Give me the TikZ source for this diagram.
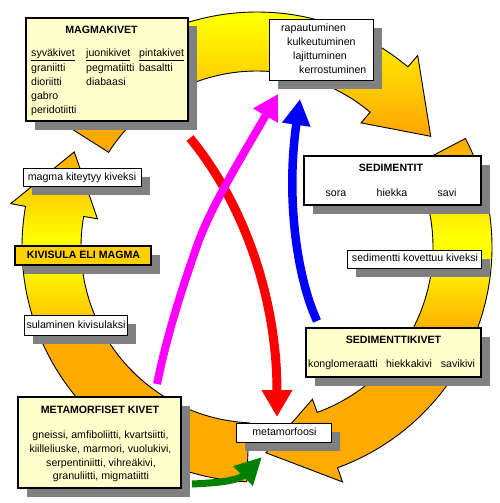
\documentclass[tikz,border=0pt]{standalone}
\usepackage{fontspec}
\setmainfont{Liberation Sans}
\usetikzlibrary{arrows.meta,shadows}
\definecolor{ringorange}{RGB}{255,170,0}
\definecolor{ringyellow}{RGB}{255,255,0}
\definecolor{boxyellow}{RGB}{255,255,204}
\definecolor{kivigold}{RGB}{255,208,0}
\definecolor{shadowgray}{RGB}{128,128,128}
\definecolor{redC}{RGB}{255,0,0}
\definecolor{magC}{RGB}{255,0,255}
\definecolor{bluC}{RGB}{0,0,255}
\definecolor{grnC}{RGB}{0,128,0}
\newcommand\labfont{\fontsize{10.6pt}{13pt}\selectfont}
\newcommand\ringpath[3]{plot[domain=0:1,samples=90,variable=\u] ({px((#1)+((#2)-(#1))*\u,235)},{py((#1)+((#2)-(#1))*\u,235)}) -- ({px(#2,250)},{py(#2,250)}) -- ({px(#3,206)},{py(#3,206)}) -- ({px(#2,162)},{py(#2,162)}) -- plot[domain=0:1,samples=90,variable=\u] ({px((#2)+((#1)-(#2))*\u,176)},{py((#2)+((#1)-(#2))*\u,176)}) -- cycle}
\begin{document}
\begin{tikzpicture}[x=1pt,y=-1pt,
  declare function={px(\aa,\rr)=257+\rr*cos(\aa); py(\aa,\rr)=247-\rr*sin(\aa);},
  ringline/.style={draw=black, line width=0.9pt, line join=miter},
  shadowed/.style={drop shadow={shadow xshift=8.5pt, shadow yshift=-8.5pt, fill=shadowgray, opacity=1}},
  bigbox/.style={draw=black, line width=1.8pt, fill=boxyellow, inner sep=0pt, shadowed},
  smallbox/.style={draw=black, line width=0.9pt, fill=white, inner sep=0pt, shadowed},
  txt/.style={inner sep=0pt, text height=7.7pt, text depth=2.3pt, font=\labfont},
  btxt/.style={txt, font=\labfont\bfseries},
  redarrow/.style={draw=redC, line width=9pt, -{Triangle[width=29pt,length=27pt]}},
  magarrow/.style={draw=magC, line width=8pt, -{Triangle[width=27pt,length=25pt]}},
  bluarrow/.style={draw=bluC, line width=8.5pt, -{Triangle[width=27pt,length=26pt]}},
  grnarrow/.style={draw=grnC, line width=7pt, -{Triangle[width=26pt,length=27pt]}}]
\fill[white] (0,0) rectangle (500,503);
\useasboundingbox (0,0) rectangle (500,503);
% ring arrow A (top)
\begin{scope}
  \clip \ringpath{147.5}{50}{32.5};
  \fill[ringorange] (0,0) rectangle (500,503);
  \shade[top color=ringyellow,bottom color=ringorange] (0,18) rectangle (500,128);
  \fill[ringyellow] (0,0) rectangle (500,18.5);
\end{scope}
\draw[ringline] \ringpath{147.5}{50}{32.5};
% ring arrow B (right)
\begin{scope}
  \clip \ringpath{27.5}{-70}{-87.5};
  \fill[ringorange] (0,0) rectangle (500,503);
  \shade[top color=ringorange,bottom color=ringyellow] (0,140) rectangle (500,236);
  \fill[ringyellow] (0,235) rectangle (500,256);
  \shade[top color=ringyellow,bottom color=ringorange] (0,255) rectangle (500,335);
\end{scope}
\draw[ringline] \ringpath{27.5}{-70}{-87.5};
% ring arrow D (left)
\begin{scope}
  \clip \ringpath{-92.5}{-190}{-207.5};
  \fill[ringorange] (0,0) rectangle (500,503);
  \shade[top color=ringorange,bottom color=ringyellow] (0,150) rectangle (500,241);
  \fill[ringyellow] (0,240) rectangle (500,263);
  \shade[top color=ringyellow,bottom color=ringorange] (0,262) rectangle (500,345);
\end{scope}
\draw[ringline] \ringpath{-92.5}{-190}{-207.5};
% connectors
\coordinate (redS) at (190,138);
\coordinate (redE) at (277,417);
\draw[redarrow] (redS) .. controls (245,205) and (277,300) .. (redE);
\coordinate (magS) at (157,384);
\coordinate (magM) at (198,243);
\coordinate (magE) at (278,94);
\draw[magarrow] (magS) .. controls (168,330) and (185,280) .. (magM) .. controls (212,205) and (240,160) .. (magE);
\coordinate (bluS) at (317,321);
\coordinate (bluE) at (300,99);
\draw[bluarrow] (bluS) .. controls (296,275) and (286,195) .. (bluE);
\coordinate (grnS) at (192,484);
\coordinate (grnE) at (262,457);
\draw[grnarrow] (grnS) .. controls (215,483) and (238,481) .. (grnE);
% boxes
\node[bigbox, minimum width=162pt, minimum height=103pt] (magmabox) at (107,69.5) {};
\node[smallbox, minimum width=104pt, minimum height=61pt] (rapabox) at (321.5,50) {};
\node[bigbox, fill=white, minimum width=177pt, minimum height=49pt] (sedbox) at (392.5,180.5) {};
\node[smallbox, minimum width=134pt, minimum height=18pt] (kovbox) at (414.5,259) {};
\node[bigbox, minimum width=175pt, minimum height=49pt] (sedkbox) at (393.5,352.5) {};
\node[smallbox, minimum width=95pt, minimum height=19pt] (metabox) at (284,433) {};
\node[bigbox, minimum width=163pt, minimum height=91pt] (metkbox) at (99.5,442.5) {};
\node[smallbox, minimum width=118pt, minimum height=18pt] (kitbox) at (82.5,177.5) {};
\node[bigbox, fill=kivigold, minimum width=136pt, minimum height=19pt] (kivibox) at (83,255.5) {};
\node[smallbox, minimum width=103pt, minimum height=20pt] (sulbox) at (76,325.5) {};
% texts
\node[btxt] (magmatitle) at (101.5,31) {MAGMAKIVET};
\node[txt,anchor=west] (s0) at (31,54) {\underline{syväkivet}};
\node[txt,anchor=west] (s1) at (31,68.5) {graniitti};
\node[txt,anchor=west] (s2) at (31,82.5) {dioriitti};
\node[txt,anchor=west] (s3) at (31,96.5) {gabro};
\node[txt,anchor=west] (s4) at (31,110.5) {peridotiitti};
\node[txt,anchor=west] (j0) at (86,54) {\underline{juonikivet}};
\node[txt,anchor=west] (j1) at (86,68.5) {pegmatiitti};
\node[txt,anchor=west] (j2) at (86,82.5) {diabaasi};
\node[txt,anchor=west] (p0) at (139,54) {\underline{pintakivet}};
\node[txt,anchor=west] (p1) at (139,68.5) {basaltti};
\node[txt,anchor=west] (r1) at (281,29) {rapautuminen};
\node[txt,anchor=west] (r2) at (287,43) {kulkeutuminen};
\node[txt,anchor=west] (r3) at (293,57) {lajittuminen};
\node[txt,anchor=west] (r4) at (299,71) {kerrostuminen};
\node[btxt] (sedtitle) at (391,169) {SEDIMENTIT};
\node[txt] (sora) at (336,194) {sora};
\node[txt] (hiekka) at (392,194) {hiekka};
\node[txt] (savi) at (447,194) {savi};
\node[txt] (kovtext) at (415,259) {sedimentti kovettuu kiveksi};
\node[btxt] (sedktitle) at (393.5,341) {SEDIMENTTIKIVET};
\node[txt] (kong) at (343,364.5) {konglomeraatti};
\node[txt] (hkk) at (409,364.5) {hiekkakivi};
\node[txt] (svk) at (458,364.5) {savikivi};
\node[txt] (metatext) at (284.5,433) {metamorfoosi};
\node[btxt] (metktitle) at (100,411) {METAMORFISET KIVET};
\node[txt] (m1) at (100.5,435.5) {gneissi, amfiboliitti, kvartsiitti,};
\node[txt] (m2) at (100.5,449.5) {kiilleliuske, marmori, vuolukivi,};
\node[txt] (m3) at (101,463.5) {serpentiniitti, vihreäkivi,};
\node[txt] (m4) at (101,477) {granuliitti, migmatiitti};
\node[txt] (kittext) at (82,177.5) {magma kiteytyy kiveksi};
\node[btxt] (kivitext) at (83.5,255.5) {KIVISULA ELI MAGMA};
\node[txt] (sultext) at (76,325.5) {sulaminen kivisulaksi};
\end{tikzpicture}
\end{document}
